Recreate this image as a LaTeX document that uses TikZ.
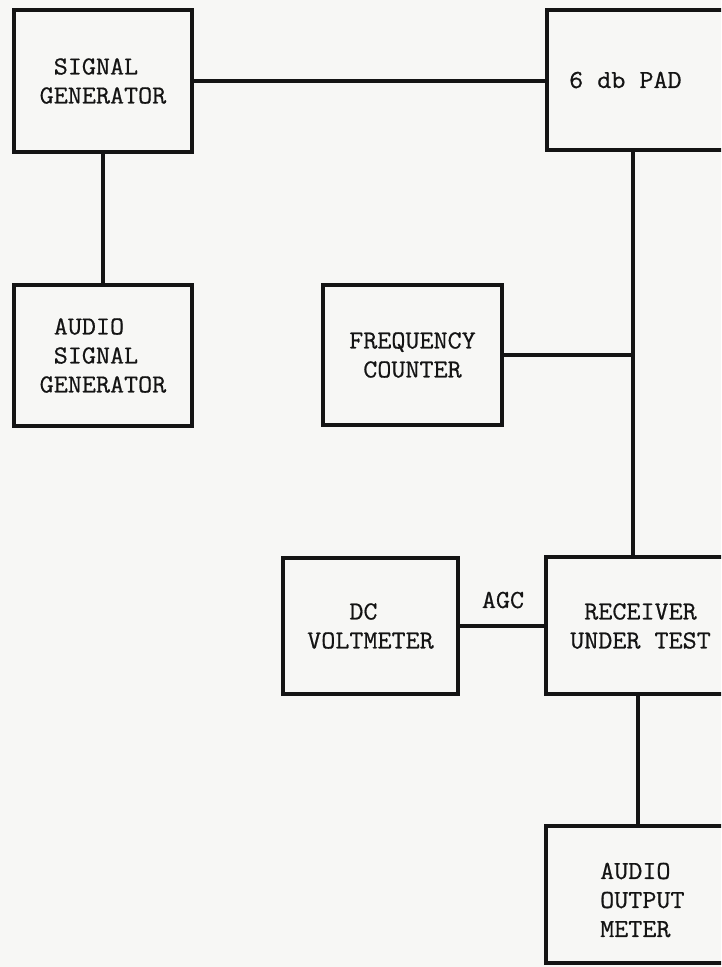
\documentclass[tikz,border=0pt]{standalone}
\usepackage{fontspec}
\newfontfamily\tw[FakeBold=0.6,FakeStretch=1.05]{Latin Modern Mono}
\definecolor{paper}{RGB}{247,247,245}
\definecolor{ink}{RGB}{20,20,20}
\begin{document}
\begin{tikzpicture}[x=1pt,y=-1pt,
  blk/.style={draw=ink,line width=3.3pt,rectangle,inner sep=0pt,align=left,
    font=\tw\fontsize{26}{29}\selectfont,text=ink},
  lbl/.style={inner sep=0pt,align=left,font=\tw\fontsize{26}{29}\selectfont,text=ink},
  wire/.style={draw=ink,line width=3.3pt}]
\fill[paper] (0,0) rectangle (721,967);
\useasboundingbox (0,0) rectangle (721,967);
\clip (0,0) rectangle (721,967);
% boxes
\node[blk,minimum width=178pt,minimum height=142pt] (sg) at (103,81) {\phantom{X}SIGNAL\\GENERATOR};
\node[blk,minimum width=198pt,minimum height=140pt] (pad) at (646,80) {};
\node[blk,minimum width=178pt,minimum height=141pt] (asg) at (103,355.5) {\phantom{X}AUDIO\\\phantom{X}SIGNAL\\GENERATOR};
\node[blk,minimum width=179pt,minimum height=140pt,align=center] (fc) at (412.5,355) {FREQUENCY\\COUNTER};
\node[blk,minimum width=175pt,minimum height=136pt] (dc) at (370.5,626) {\phantom{XXX}DC\\VOLTMETER};
\node[blk,minimum width=199pt,minimum height=137pt] (rx) at (645.5,625.5) {};
\node[blk,minimum width=199pt,minimum height=137pt] (aom) at (645.5,894.5) {};
% texts of boxes cut by the right edge
\node[lbl,anchor=west] (padt) at (569,80) {6 db PAD};
\node[lbl,anchor=west] (rxt) at (570,626) {\phantom{X}RECEIVER\\UNDER TEST};
\node[lbl,anchor=west] (aomt) at (600,900) {AUDIO\\OUTPUT\\METER};
\node[lbl] (agc) at (503,600) {AGC};
% connectors
\coordinate (bus) at (633,355);
\coordinate (low) at (638,700);
\draw[wire] (sg.east) -- (sg.east -| pad.west);
\draw[wire] (sg.south) -- (asg.north);
\draw[wire] (bus |- pad.south) -- (bus |- rx.north);
\draw[wire] (fc.east) -- (bus);
\draw[wire] (dc.east) -- (dc.east -| rx.west);
\draw[wire] (low |- rx.south) -- (low |- aom.north);
\end{tikzpicture}
\end{document}
